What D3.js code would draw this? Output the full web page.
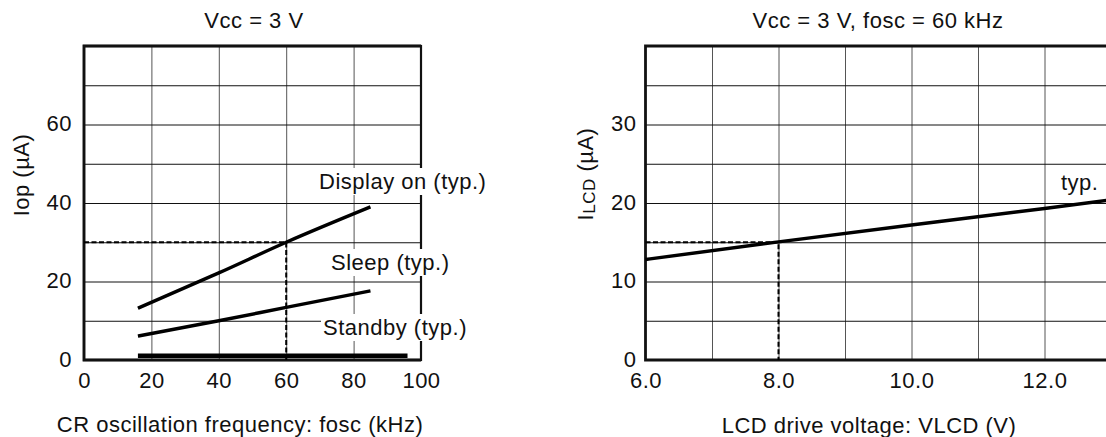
<!DOCTYPE html>
<html>
<head>
<meta charset="utf-8">
<title>Iop / ILCD characteristics</title>
<script src="https://cdn.jsdelivr.net/npm/d3@7"></script>
<style>
    body { margin: 0; background: #fff; }
    text {
        font-family: "Liberation Sans", Arial, sans-serif;
        font-size: 22px;
        letter-spacing: 0.5px;
        fill: #111;
    }
</style>
</head>
<body>
<script>
    // left chart: operating current vs CR oscillation frequency
    var foscTicks = [0, 20, 40, 60, 80, 100];
    var iopTicks = [0, 20, 40, 60];
    var iopGrid = [10, 20, 30, 40, 50, 60, 70];
    var displayOn = [[16, 13.2], [40, 22.2], [60, 30], [85, 39]];
    var sleep = [[16, 6.1], [40, 10], [60, 13.4], [85, 17.6]];
    var standby = [[16, 1.1], [96, 1.1]];
    var foscRef = [[0, 30], [60, 30], [60, 0]];

    // right chart: LCD current vs LCD drive voltage
    var vlcdTicks = [6, 8, 10, 12];
    var vlcdGrid = [7, 8, 9, 10, 11, 12];
    var ilcdTicks = [0, 10, 20, 30];
    var ilcdGrid = [5, 10, 15, 20, 25, 30, 35];
    var ilcd = [[6, 12.8], [8, 15.05], [10, 17.2], [12, 19.3], [13, 20.4]];
    var vlcdRef = [[6, 15], [8, 15], [8, 0]];

    var W = 1106, H = 437;
    var plotTop = 46, plotBottom = 360;

    var svg = d3.select('body').append('svg')
        .attr('width', W)
        .attr('height', H);

    function grid(g, x, y, xs, ys) {
        g.append('g')
            .attr('transform', 'translate(0,' + plotBottom + ')')
            .call(d3.axisBottom(x).tickValues(xs).tickSize(-(plotBottom - plotTop)).tickFormat(''))
            .call(function(s) { s.select('.domain').remove(); })
            .selectAll('line').attr('stroke', '#555').attr('stroke-width', 1);
        g.append('g')
            .attr('transform', 'translate(' + x.range()[0] + ',0)')
            .call(d3.axisLeft(y).tickValues(ys).tickSize(-(x.range()[1] - x.range()[0])).tickFormat(''))
            .call(function(s) { s.select('.domain').remove(); })
            .selectAll('line').attr('stroke', '#111').attr('stroke-width', 1);
    }

    function ticks(g, x, y, xs, ys, fmt, ypad) {
        var xa = g.append('g')
            .attr('transform', 'translate(0,' + plotBottom + ')')
            .call(d3.axisBottom(x).tickValues(xs).tickSize(0).tickPadding(12).tickFormat(fmt));
        var ya = g.append('g')
            .attr('transform', 'translate(' + x.range()[0] + ',0)')
            .call(d3.axisLeft(y).tickValues(ys).tickSize(0).tickPadding(ypad));
        [xa, ya].forEach(function(a) {
            a.attr('font-size', null).attr('font-family', null);
            a.select('.domain').remove();
            a.selectAll('text').attr('fill', '#111');
        });
        ya.selectAll('text').attr('dy', '0.28em');
    }

    function label(g, txt, x, y) {
        var t = g.append('text').attr('x', x).attr('y', y).text(txt);
        var b = t.node().getBBox();
        g.insert('rect', function() { return t.node(); })
            .attr('x', b.x - 2).attr('y', b.y - 1)
            .attr('width', b.width + 3).attr('height', b.height + 2)
            .attr('fill', '#fff');
    }

    // ---------- left chart ----------
    var x1 = d3.scaleLinear().domain([0, 100]).range([84, 421]);
    var y1 = d3.scaleLinear().domain([0, 80]).range([plotBottom, plotTop]);
    var g1 = svg.append('g');

    grid(g1, x1, y1, [20, 40, 60, 80], iopGrid);

    g1.append('rect')
        .attr('x', x1(0)).attr('y', plotTop)
        .attr('width', x1(100) - x1(0)).attr('height', plotBottom - plotTop)
        .attr('fill', 'none').attr('stroke', '#111').attr('stroke-width', 2.2);
    g1.append('path')
        .attr('d', 'M' + x1(100) + ',' + plotTop + 'H' + x1(0) + 'V' + plotBottom + 'H' + x1(100))
        .attr('fill', 'none').attr('stroke', '#111').attr('stroke-width', 2.8);

    ticks(g1, x1, y1, foscTicks, iopTicks, d3.format('d'), 12);

    label(g1, 'Display on (typ.)', 319, 189);
    label(g1, 'Sleep (typ.)', 331, 270);
    label(g1, 'Standby (typ.)', 323, 335);

    var line1 = d3.line().x(function(d) { return x1(d[0]); }).y(function(d) { return y1(d[1]); });

    g1.append('path').datum(foscRef).attr('d', line1)
        .attr('fill', 'none').attr('stroke', '#000').attr('stroke-width', 2)
        .attr('stroke-dasharray', '5,2.5');

    [displayOn, sleep].forEach(function(s) {
        g1.append('path').datum(s).attr('d', line1.curve(d3.curveMonotoneX))
            .attr('fill', 'none').attr('stroke', '#000').attr('stroke-width', 3.4);
    });
    g1.append('path').datum(standby).attr('d', line1.curve(d3.curveLinear))
        .attr('fill', 'none').attr('stroke', '#000').attr('stroke-width', 4.5);

    g1.append('text').attr('x', 254).attr('y', 28).attr('text-anchor', 'middle').text('Vcc = 3 V');
    g1.append('text').attr('x', 240).attr('y', 432).attr('text-anchor', 'middle')
        .text('CR oscillation frequency: fosc (kHz)');
    g1.append('text').attr('transform', 'translate(29,175) rotate(-90)')
        .attr('text-anchor', 'middle').text('Iop (\u00b5A)');

    // ---------- right chart ----------
    var x2 = d3.scaleLinear().domain([6, 13]).range([645.5, 1111]);
    var y2 = d3.scaleLinear().domain([0, 40]).range([plotBottom, plotTop]);
    var g2 = svg.append('g');

    grid(g2, x2, y2, vlcdGrid, ilcdGrid);

    g2.append('path')
        .attr('d', 'M' + x2(13) + ',' + plotTop + 'H' + x2(6) + 'V' + plotBottom + 'H' + x2(13))
        .attr('fill', 'none').attr('stroke', '#111').attr('stroke-width', 2.8);

    ticks(g2, x2, y2, vlcdTicks, ilcdTicks, d3.format('.1f'), 9);

    label(g2, 'typ.', 1061, 190);

    var line2 = d3.line().x(function(d) { return x2(d[0]); }).y(function(d) { return y2(d[1]); });

    g2.append('path').datum(vlcdRef).attr('d', line2)
        .attr('fill', 'none').attr('stroke', '#000').attr('stroke-width', 2)
        .attr('stroke-dasharray', '5,2.5');
    g2.append('path').datum(ilcd).attr('d', line2.curve(d3.curveMonotoneX))
        .attr('fill', 'none').attr('stroke', '#000').attr('stroke-width', 3.4);

    g2.append('text').attr('x', 878).attr('y', 28).attr('text-anchor', 'middle')
        .text('Vcc = 3 V, fosc = 60 kHz');
    g2.append('text').attr('x', 869).attr('y', 433).attr('text-anchor', 'middle')
        .text('LCD drive voltage: VLCD (V)');

    var yl = g2.append('text').attr('transform', 'translate(593,174) rotate(-90)')
        .attr('text-anchor', 'middle');
    yl.append('tspan').text('I');
    yl.append('tspan').attr('font-size', '17px').attr('dy', 2).text('LCD');
    yl.append('tspan').attr('dy', -2).text(' (\u00b5A)');
</script>
</body>
</html>
